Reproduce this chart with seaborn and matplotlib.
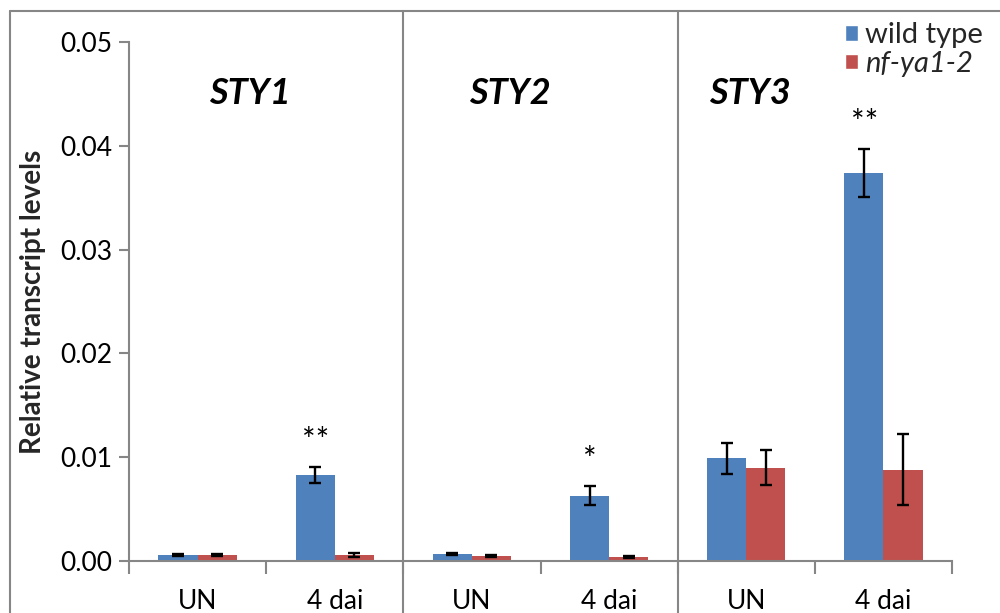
import matplotlib
matplotlib.use("Agg")
import matplotlib.pyplot as plt
from matplotlib.lines import Line2D
from matplotlib.patches import Patch
import numpy as np
import pandas as pd
import seaborn as sns

# Expression data: three STY genes, untreated (UN) and 4 days after inoculation
genes = ["STY1", "STY2", "STY3"]
treatments = ["UN", "4 dai"]
genotypes = ["wild type", "nf-ya1-2"]
wt_mean = [0.0006, 0.0083, 0.0007, 0.0063, 0.0099, 0.0374]
wt_err = [0.0001, 0.0008, 0.0001, 0.0009, 0.0015, 0.0023]
mut_mean = [0.0006, 0.0006, 0.0005, 0.0004, 0.0090, 0.0088]
mut_err = [0.0001, 0.0002, 0.0001, 0.0001, 0.0017, 0.0034]
signif = ["", "**", "", "*", "", "**"]

BLUE = "#4F81BD"
RED = "#C0504D"
GREY = "#868686"

sns.set_theme(style="white")
plt.rcParams["font.family"] = ["Lato", "DejaVu Sans"]

slots = [f"{g}|{t}" for g in genes for t in treatments]
df = pd.DataFrame({
    "slot": slots * 2,
    "genotype": [genotypes[0]] * 6 + [genotypes[1]] * 6,
    "value": wt_mean + mut_mean,
    "err": wt_err + mut_err,
})

fig = plt.figure(figsize=(10, 6.13), dpi=100)
ax = fig.add_axes([0.129, 0.0848, 0.823, 0.8467])

sns.barplot(data=df, x="slot", y="value", hue="genotype", order=slots,
            hue_order=genotypes, palette=[BLUE, RED], width=0.57, gap=0,
            errorbar=None, saturation=1, edgecolor="none", ax=ax, legend=False)

# error bars placed at the centre of each drawn bar
bars = [p for p in ax.patches if p.get_width() > 0]
for p, (_, row) in zip(bars, df.iterrows()):
    cx = p.get_x() + p.get_width() / 2
    ax.errorbar(cx, row["value"], yerr=row["err"], fmt="none", ecolor="black",
                elinewidth=1.7, capsize=4.5, capthick=1.7, zorder=5)

# significance marks above the wild-type bars
for i, s in enumerate(signif):
    if s:
        top = wt_mean[i] + wt_err[i]
        ax.text(i - 0.14, top + 0.0024, s, ha="center", va="center",
                fontsize=23, color="black")

# gene names
gene_pos = [0.38, 2.28, 4.03]
for g, xp in zip(genes, gene_pos):
    ax.text(xp, 0.045, g, ha="center", va="center", fontsize=26,
            fontweight="bold", fontstyle="italic", color="black")

ax.set_xlim(-0.5, 5.5)
ax.set_ylim(0, 0.05)
ax.set_yticks(np.arange(0, 0.051, 0.01))
ax.set_yticklabels([f"{v:.2f}" for v in np.arange(0, 0.051, 0.01)], fontsize=19)
ax.set_xticks(range(6))
ax.set_xticklabels([s.split("|")[1] for s in slots], fontsize=19)
ax.tick_params(axis="x", length=0, pad=20, colors="black")
ax.tick_params(axis="y", length=7, width=1.5, color=GREY, pad=5,
               labelcolor="black", left=True)
# category boundary ticks on the x axis
ax.set_xticks(np.arange(-0.5, 6, 1), minor=True)
ax.tick_params(axis="x", which="minor", length=9, width=1.5, color=GREY,
               bottom=True, direction="out")

for side in ["top", "right"]:
    ax.spines[side].set_visible(False)
for side in ["left", "bottom"]:
    ax.spines[side].set_color(GREY)
    ax.spines[side].set_linewidth(1.5)

ax.set_xlabel("")
ax.set_ylabel("Relative transcript levels", fontsize=20, fontweight="bold")
ax.yaxis.set_label_coords(-0.101, 0.5)

# panel separators between genes
for xs in [1.5, 3.5]:
    ax.axvline(xs, ymin=-0.11, ymax=1.06, color=GREY, lw=1.5, clip_on=False)

# chart-area border
fig.add_artist(Line2D([0.010, 1.0], [0.982, 0.982], transform=fig.transFigure,
                      color=GREY, lw=1.5))
fig.add_artist(Line2D([0.010, 0.010], [0.0, 0.982], transform=fig.transFigure,
                      color=GREY, lw=1.5))

handles = [Patch(facecolor=BLUE, label=genotypes[0]),
           Patch(facecolor=RED, label=genotypes[1])]
leg = ax.legend(handles=handles, loc="upper left",
                bbox_to_anchor=(0.845, 0.964), bbox_transform=fig.transFigure,
                frameon=False, fontsize=21, handlelength=0.45, handleheight=0.45,
                handletextpad=0.25, labelspacing=0.1, borderpad=0,
                borderaxespad=0)
leg.get_texts()[1].set_fontstyle("italic")

fig.savefig("out.png", dpi=100)
